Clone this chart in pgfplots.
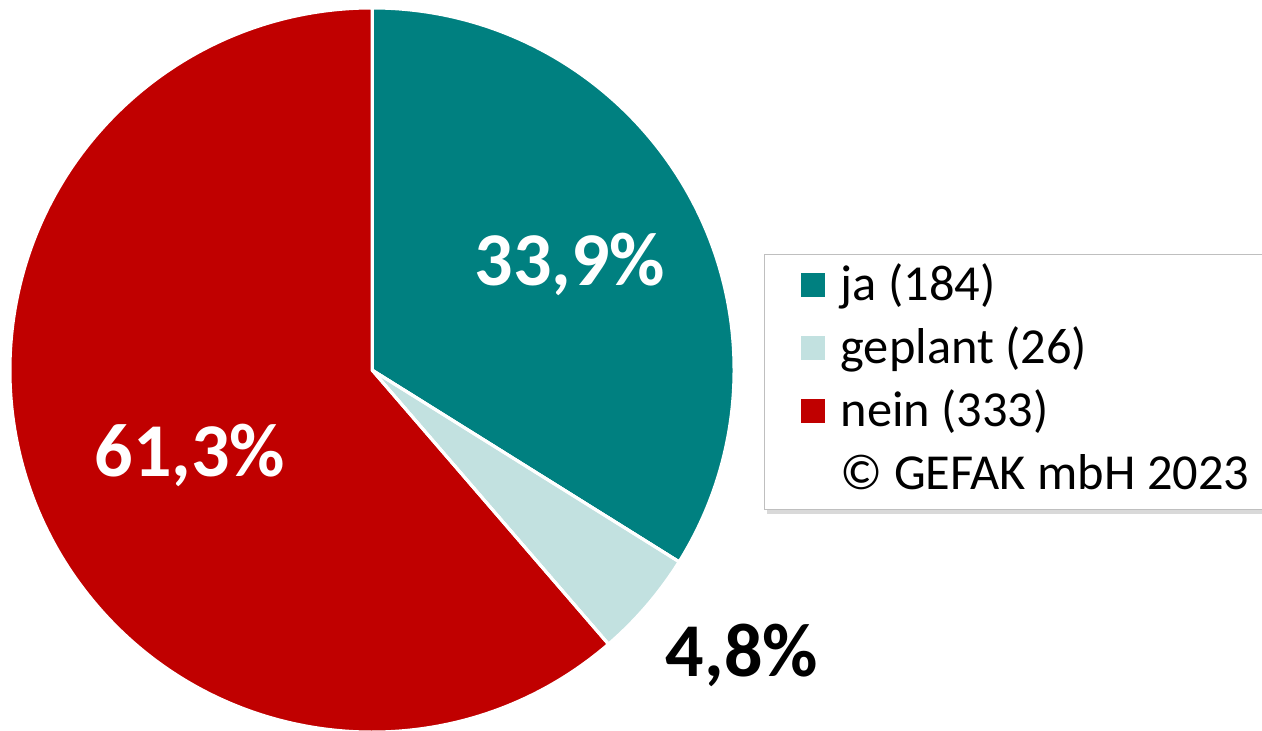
\documentclass[border=0pt]{standalone}
\usepackage{pgfplots}
\pgfplotsset{compat=1.18}
\usepackage{pgfplotstable}
\usepackage{fontspec}
\setmainfont{Carlito}
\usetikzlibrary{shadows}
\definecolor{cja}{HTML}{008080}
\definecolor{cgep}{HTML}{C2E1E0}
\definecolor{cnein}{HTML}{C00000}
\pgfplotstableread{
label value
ja 184
geplant 26
nein 333
}\piedata
\pgfplotstablegetelem{0}{value}\of\piedata \let\vja\pgfplotsretval
\pgfplotstablegetelem{1}{value}\of\piedata \let\vgep\pgfplotsretval
\pgfplotstablegetelem{2}{value}\of\piedata \let\vnein\pgfplotsretval
\pgfmathsetmacro\total{\vja+\vgep+\vnein}
\pgfmathsetmacro\aA{90-360*(\vja/\total)}
\pgfmathsetmacro\aB{\aA-360*(\vgep/\total)}
\pgfplotsset{sq/.style={legend image code/.code={\pgfpathrectangle{\pgfpoint{0pt}{-4.5pt}}{\pgfpoint{12pt}{12pt}}\pgfsetfillcolor{#1}\pgfusepath{fill}}}}
\begin{document}
\begin{tikzpicture}
\begin{axis}[at={(0,0)},anchor=south west, scale only axis,
  width=631pt, height=365pt, xmin=0, xmax=1262, ymin=0, ymax=730,
  hide axis, clip=false,
  legend cell align=left,
  legend style={at={(0.6054,0.6521)}, anchor=north west,
    draw=black!25, line width=0.6pt, fill=white,
    drop shadow={shadow xshift=1pt, shadow yshift=-2pt, opacity=0.3},
    font=\fontsize{25.2}{30}\selectfont,
    inner xsep=18pt, inner ysep=4pt, row sep=6.5pt,
    nodes={inner sep=1pt, text height=18pt, text depth=5pt},
    /tikz/every odd column/.append style={column sep=7pt}},
]
\fill[cja, draw=white, line width=1.5pt] (axis cs:372,360) -- ++(90:181pt) arc[start angle=90, end angle=\aA, radius=181pt] -- cycle;
\fill[cgep, draw=white, line width=1.5pt] (axis cs:372,360) -- ++(\aA:181pt) arc[start angle=\aA, end angle=\aB, radius=181pt] -- cycle;
\fill[cnein, draw=white, line width=1.5pt] (axis cs:372,360) -- ++(\aB:181pt) arc[start angle=\aB, end angle=-270, radius=181pt] -- cycle;
\draw[white, line width=1.5pt] (axis cs:372,360) -- ++(90:181pt);
\draw[white, line width=1.5pt] (axis cs:372,360) -- ++(\aA:181pt);
\draw[white, line width=1.5pt] (axis cs:372,360) -- ++(\aB:181pt);
\node[white, font=\fontsize{38}{40}\selectfont\bfseries] at (axis cs:570,466) {33,9\%};
\node[white, font=\fontsize{38}{40}\selectfont\bfseries] at (axis cs:190,275) {61,3\%};
\node[black, font=\fontsize{38}{40}\selectfont\bfseries] at (axis cs:742,75) {4,8\%};
\addlegendimage{sq=cja}
\addlegendentry{ja (184)}
\addlegendimage{sq=cgep}
\addlegendentry{geplant (26)}
\addlegendimage{sq=cnein}
\addlegendentry{nein (333)}
\addlegendimage{empty legend}
\addlegendentry{© GEFAK mbH 2023}
\end{axis}
\pgfresetboundingbox
\useasboundingbox (0,0) rectangle (631pt,365pt);
\end{tikzpicture}
\end{document}
